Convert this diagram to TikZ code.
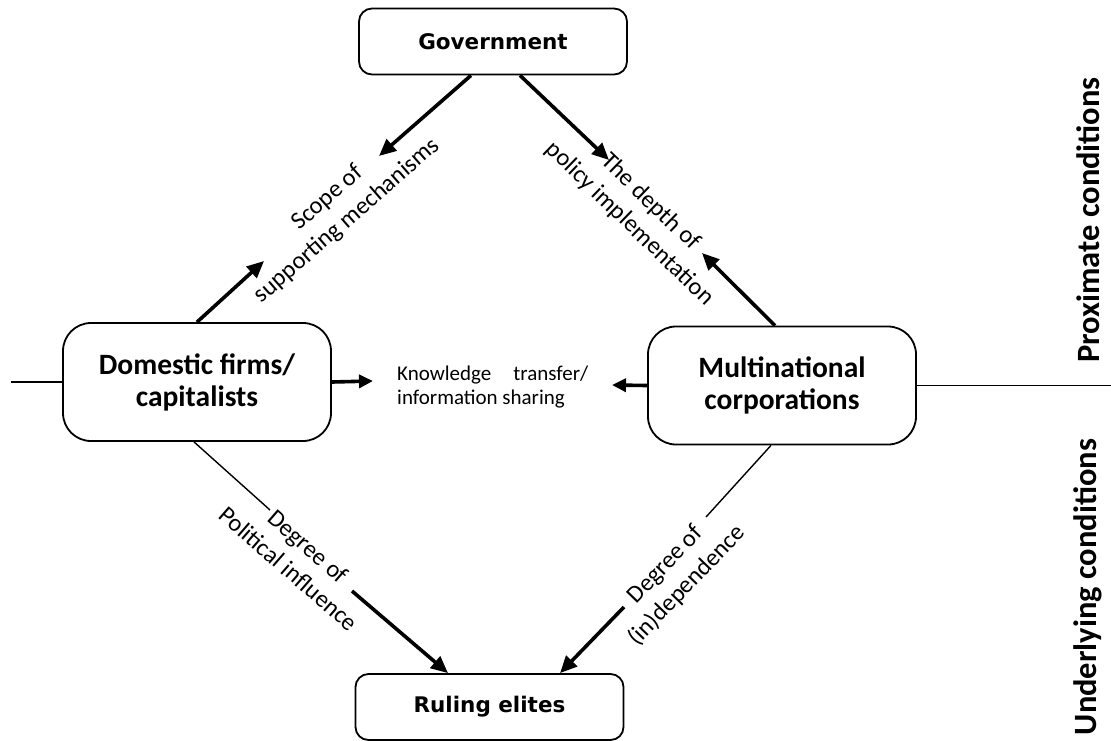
\documentclass[tikz,border=0pt]{standalone}
\usepackage{fontspec}
\setmainfont{Carlito}
\newfontfamily\verd{DejaVu Sans}
\usetikzlibrary{arrows.meta,calc}
\begin{document}
\begin{tikzpicture}[x=1pt,y=-1pt,
 bigbox/.style={draw,line width=1.8pt,rounded corners=28pt,minimum width=268pt,minimum height=118pt,align=center,font=\fontsize{29.5}{32}\selectfont\bfseries,inner sep=0pt},
 smallbox/.style={draw,line width=1.8pt,rounded corners=13pt,minimum width=268pt,minimum height=66pt,font=\verd\fontsize{21.5}{25}\selectfont\bfseries,inner sep=0pt},
 lbl/.style={align=center,font=\fontsize{24.5}{30}\selectfont,inner sep=0pt},
 tarrow/.style={line width=3.6pt,-{Triangle[length=17pt,width=15pt]}},
 karrow/.style={line width=3.6pt,-{Triangle[length=14pt,width=13pt]}},
 thinline/.style={line width=1.4pt},
 side/.style={rotate=90,font=\fontsize{32.5}{36}\selectfont\bfseries,inner sep=0pt}
]
\useasboundingbox (0,0) rectangle (1111,740);

% boxes
\node[smallbox] (gov) at (493,41.5) {Government};
\node[bigbox] (dom) at (197,382) {Domestic firms/\\capitalists};
\node[bigbox] (mnc) at (782,385.5) {Multinational\\corporations};
\node[smallbox] (rul) at (489.5,707) {Ruling elites};

% labels
\node[lbl,rotate=41] (scope) at (337.5,209.5) {Scope of\\supporting mechanisms};
\node[lbl,rotate=-44] (depth) at (640,213) {The depth of\\policy implementation};
\node[lbl,rotate=-41] (polit) at (298.5,557.5) {Degree of\\Political influence};
\node[lbl,rotate=46] (indep) at (676.5,575.5) {Degree of\\(in)dependence};
\node[font=\fontsize{21}{24}\selectfont,align=left,inner sep=0pt,anchor=base west] (know) at (397,404) {\hbox to 191pt{Knowledge\hfill transfer/}\\information sharing};

% side labels
\node[side] (prox) at (1088,220) {Proximate conditions};
\node[side] (under) at (1088,587) {Underlying conditions};

% coordinates
\coordinate (t1) at (379,156);
\coordinate (t2) at (264,261);
\coordinate (t3) at (609,160);
\coordinate (t4) at (702,253);
\coordinate (t5) at (373,381);
\coordinate (t6) at (612,385);
\coordinate (c7) at (270,510);
\coordinate (c7b) at (352,591);
\coordinate (c8) at (706,517);
\coordinate (c8b) at (624,607);
\coordinate (lend) at (11,382);
\coordinate (rend) at (1111,385.5);

% connectors
\draw[tarrow] ($(gov.south)+(-22,0)$) -- (t1);
\draw[tarrow] (dom.north) -- (t2);
\draw[tarrow] ($(gov.south)+(27,0)$) -- (t3);
\draw[tarrow] ($(mnc.north)+(-7,0)$) -- (t4);
\draw[karrow] (dom.east) -- (t5);
\draw[karrow] (mnc.west) -- (t6);
\draw[thinline] ($(dom.south)+(-3,0)$) -- (c7);
\draw[tarrow] (c7b) -- ($(rul.north)+(-41.5,0)$);
\draw[thinline] ($(mnc.south)+(-11,0)$) -- (c8);
\draw[tarrow] (c8b) -- ($(rul.north)+(70.5,0)$);
\draw[thinline] (lend) -- (dom.west);
\draw[thinline] (mnc.east) -- (rend);
\end{tikzpicture}
\end{document}
